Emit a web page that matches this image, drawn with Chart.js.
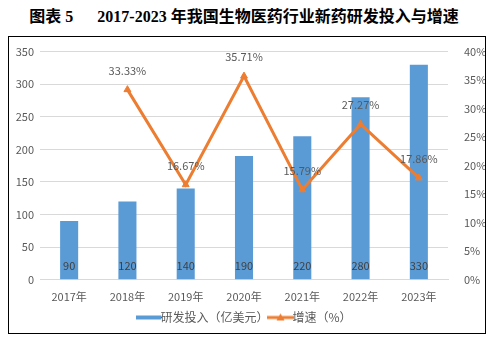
<!DOCTYPE html>
<html>
<head>
<meta charset="utf-8">
<script src="https://cdn.jsdelivr.net/npm/chart.js@4"></script>
<style>
  html, body { margin: 0; padding: 0; background: #fff; }
  #title {
    position: absolute; left: 0; top: 3px; width: 488px; text-align: center;
    font: bold 16px "Liberation Serif", "Noto Sans CJK SC", serif; color: #000;
    white-space: pre;
  }
  #box {
    position: absolute; left: 8px; top: 36px; width: 476px; height: 296px;
    border: 1px solid #000;
  }
  #box canvas { display: block; }
</style>
</head>
<body>
<div id="title">图表 5      2017-2023 年我国生物医药行业新药研发投入与增速</div>
<div id="box"><canvas id="c" width="476" height="296"></canvas></div>
<script>
/* ─── Données ─────────────────────────────────────────────── */
const years    = ['2017年', '2018年', '2019年', '2020年', '2021年', '2022年', '2023年'];
const invest   = [90, 120, 140, 190, 220, 280, 330];          // 亿美元
const growth   = [null, 33.33, 16.67, 35.71, 15.79, 27.27, 17.86]; // %
const leftTicks  = { min: 0, max: 350, step: 50 };
const rightTicks = { min: 0, max: 40, step: 5 };

const BLUE = '#5B9BD5', ORANGE = '#ED7D31', GRID = '#D9D9D9', TXT = '#595959';
const FONT = '"Noto Sans CJK SC", "Noto Sans", sans-serif';

// Icônes de légende
function legendIcon(kind) {
  const c = document.createElement('canvas');
  c.width = 27; c.height = 9;
  const g = c.getContext('2d');
  if (kind === 'bar') {
    g.fillStyle = BLUE; g.fillRect(1, 3, 25, 4);
  } else {
    g.strokeStyle = ORANGE; g.lineWidth = 3;
    g.beginPath(); g.moveTo(0, 5); g.lineTo(27, 5); g.stroke();
    g.fillStyle = ORANGE;
    g.beginPath(); g.moveTo(13.5, 1); g.lineTo(17.5, 8); g.lineTo(9.5, 8); g.closePath(); g.fill();
  }
  return c;
}

// Étiquettes de valeurs
const valueLabels = {
  id: 'valueLabels',
  afterDatasetsDraw(chart) {
    const ctx = chart.ctx;
    ctx.save();
    ctx.font = '11px ' + FONT;
    ctx.textAlign = 'center';
    ctx.textBaseline = 'middle';
    const y0 = chart.scales.y.getPixelForValue(0);
    chart.getDatasetMeta(0).data.forEach((el, i) => {
      ctx.fillStyle = '#404040';
      ctx.fillText(String(invest[i]), el.x, y0 - 14);
    });
    chart.getDatasetMeta(1).data.forEach((el, i) => {
      if (growth[i] == null) return;
      ctx.fillStyle = TXT;
      ctx.fillText(growth[i].toFixed(2) + '%', el.x, el.y - 19);
    });
    ctx.restore();
  }
};

new Chart(document.getElementById('c'), {
  data: {
    labels: years,
    datasets: [
      {
        type: 'bar', label: '研发投入（亿美元）', data: invest, yAxisID: 'y',
        backgroundColor: BLUE, barPercentage: 0.31, categoryPercentage: 1, order: 2
      },
      {
        type: 'line', label: '增速（%）', data: growth, yAxisID: 'y1',
        borderColor: ORANGE, backgroundColor: ORANGE, borderWidth: 3,
        pointStyle: 'triangle', pointRadius: 4, pointBorderWidth: 1,
        tension: 0, order: 1
      }
    ]
  },
  options: {
    responsive: false,
    animation: false,
    layout: { padding: { top: 4, left: 0, right: 0, bottom: 0 } },
    plugins: {
      tooltip: { enabled: false },
      legend: {
        position: 'bottom',
        labels: {
          usePointStyle: true,
          color: TXT,
          font: { family: FONT, size: 12 },
          padding: 6,
          generateLabels: chart => chart.data.datasets.map((ds, i) => ({
            text: ds.label, datasetIndex: i, fontColor: TXT,
            pointStyle: legendIcon(i === 0 ? 'bar' : 'line'),
            hidden: false, lineWidth: 0
          }))
        }
      }
    },
    scales: {
      x: {
        grid: { display: false },
        border: { color: GRID },
        ticks: { color: TXT, font: { family: FONT, size: 11 }, padding: 2 }
      },
      y: {
        position: 'left', min: leftTicks.min, max: leftTicks.max,
        ticks: { stepSize: leftTicks.step, color: TXT, font: { family: FONT, size: 11 }, padding: 6 },
        grid: { color: GRID, drawTicks: false },
        border: { display: false },
        afterFit: s => { s.width = 31; }
      },
      y1: {
        position: 'right', min: rightTicks.min, max: rightTicks.max,
        ticks: { stepSize: rightTicks.step, color: TXT, font: { family: FONT, size: 11 }, padding: 8,
                 callback: v => v + '%' },
        grid: { display: false },
        border: { display: false },
        afterFit: s => { s.width = 37; }
      }
    }
  },
  plugins: [valueLabels]
});
</script>
</body>
</html>
